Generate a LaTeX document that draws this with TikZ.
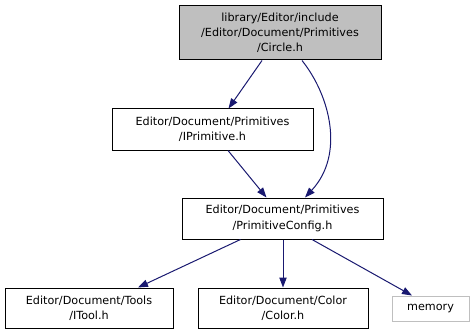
\documentclass[tikz,border=0pt]{standalone}
\usepackage{fontspec}
\setmainfont{DejaVu Sans}
\usetikzlibrary{arrows.meta,calc}
\definecolor{edgeblue}{HTML}{191970}
\definecolor{hdrgray}{HTML}{BFBFBF}
\definecolor{extgray}{HTML}{BFBFBF}
\tikzset{
  file/.style={draw=black, line width=0.75pt, align=center, inner sep=0pt,
    font=\fontsize{8.4pt}{11.4pt}\selectfont},
  dep/.style={draw=edgeblue, line width=0.75pt,
    -{Triangle[length=7.5pt,width=5.5pt]}},
}
\begin{document}
\begin{tikzpicture}[x=0.75pt,y=-0.75pt]
\useasboundingbox (0,0) rectangle (475,335);

% files
\node[file, fill=hdrgray, minimum width=202*0.75pt, minimum height=54*0.75pt] (circ) at (280,33)
  {library/Editor/include\\/Editor/Document/Primitives\\/Circle.h};
\node[file, minimum width=201*0.75pt, minimum height=41*0.75pt] (iprim) at (212.5,129.5)
  {Editor/Document/Primitives\\/IPrimitive.h};
\node[file, minimum width=201*0.75pt, minimum height=41*0.75pt] (pconf) at (282.5,218.5)
  {Editor/Document/Primitives\\/PrimitiveConfig.h};
\node[file, minimum width=168*0.75pt, minimum height=40*0.75pt] (itool) at (89,308)
  {Editor/Document/Tools\\/ITool.h};
\node[file, minimum width=170*0.75pt, minimum height=40*0.75pt] (color) at (283,308)
  {Editor/Document/Color\\/Color.h};
\node[file, draw=extgray, minimum width=77*0.75pt, minimum height=25*0.75pt] (mem) at (430.5,308.5)
  {memory};

% include edges
\draw[dep] ($(circ.south)+(-18,0)$) -- ($(iprim.north)+(16,0)$);
\draw[dep] ($(circ.south)+(22,0)$) .. controls ($(circ.south)+(50,35)$) and ($(pconf.north)+(62.5,-43)$) .. ($(pconf.north)+(22.5,0)$);
\draw[dep] ($(iprim.south)+(15.5,0)$) -- ($(pconf.north)+(-16,0)$);
\draw[dep] ($(pconf.south)+(-42,0)$) -- ($(itool.north)+(49,0)$);
\draw[dep] ($(pconf.south)+(0.5,0)$) -- (color.north);
\draw[dep] ($(pconf.south)+(29.5,0)$) -- ($(mem.north)+(-18.5,0)$);
\end{tikzpicture}
\end{document}
